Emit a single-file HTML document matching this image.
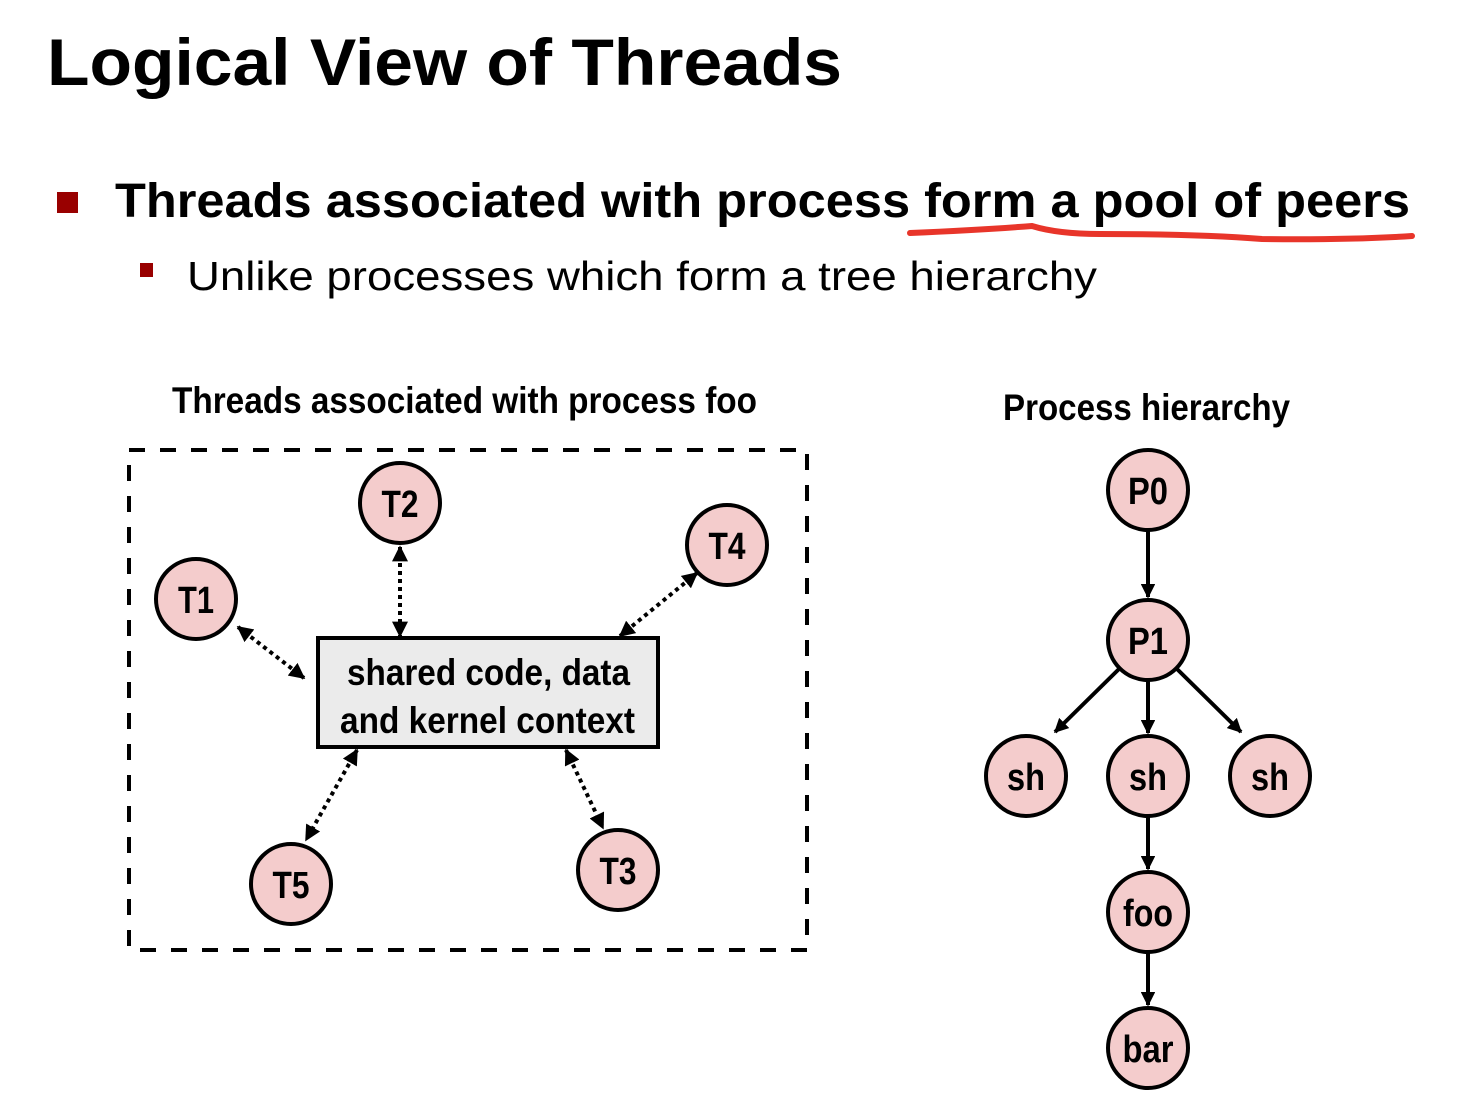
<!DOCTYPE html>
<html><head><meta charset="utf-8"><style>
html,body{margin:0;padding:0;background:#fff;}
svg{display:block;}
.n{font-family:"Liberation Sans Narrow","Liberation Sans",sans-serif;font-weight:bold;}
</style></head><body>
<svg width="1458" height="1102" viewBox="0 0 1458 1102" xmlns="http://www.w3.org/2000/svg">
<defs>
<marker id="a" viewBox="0 0 10 10" refX="9" refY="5" markerWidth="4" markerHeight="4" orient="auto-start-reverse" markerUnits="strokeWidth">
<path d="M0,0 L10,5 L0,10 z" fill="#000"/></marker>
<marker id="b" viewBox="0 0 10 10" refX="9" refY="5" markerWidth="3.6" markerHeight="3.6" orient="auto" markerUnits="strokeWidth">
<path d="M0,0 L10,5 L0,10 z" fill="#000"/></marker>
</defs>
<g font-family="Liberation Sans, sans-serif">
<text x="47" y="85" font-size="66" font-weight="bold" textLength="795" lengthAdjust="spacingAndGlyphs">Logical View of Threads</text>
<rect x="57" y="192" width="21" height="21" fill="#990000"/>
<text x="115" y="217" font-size="48" font-weight="bold" textLength="1295" lengthAdjust="spacingAndGlyphs">Threads associated with process form a pool of peers</text>
<rect x="140" y="263" width="13" height="14" fill="#990000"/>
<text x="187" y="290" font-size="41" textLength="910" lengthAdjust="spacingAndGlyphs">Unlike processes which form a tree hierarchy</text>
</g>
<path d="M910 233 Q980 230 1032 226 Q1058 234 1100 234 Q1200 234 1262 239 Q1350 240 1412 236" stroke="#e8352a" stroke-width="6" fill="none" stroke-linecap="round"/>

<text class="n" x="172" y="413" font-size="37" textLength="585" lengthAdjust="spacingAndGlyphs">Threads associated with process foo</text>
<text class="n" x="1003" y="420" font-size="37" textLength="287" lengthAdjust="spacingAndGlyphs">Process hierarchy</text>

<rect x="129" y="450" width="678" height="500" fill="none" stroke="#000" stroke-width="4" stroke-dasharray="16 15"/>

<rect x="318" y="638" width="340" height="109" fill="#ebebeb" stroke="#000" stroke-width="4"/>
<text class="n" x="347" y="685" font-size="37" textLength="283" lengthAdjust="spacingAndGlyphs">shared code, data</text>
<text class="n" x="340" y="733" font-size="37" textLength="295" lengthAdjust="spacingAndGlyphs">and kernel context</text>

<g stroke="#000" stroke-width="4" stroke-dasharray="4 4" fill="none" marker-start="url(#a)" marker-end="url(#a)">
<line x1="400" y1="547" x2="400" y2="636"/>
<line x1="238" y1="627" x2="304" y2="678"/>
<line x1="697" y1="573" x2="620" y2="636"/>
<line x1="357" y1="750" x2="306" y2="840"/>
<line x1="566" y1="750" x2="603" y2="828"/>
</g>

<g stroke="#000" stroke-width="4" fill="none" marker-end="url(#b)">
<line x1="1148" y1="531" x2="1148" y2="597"/>
<line x1="1148" y1="681" x2="1148" y2="733"/>
<line x1="1119" y1="669" x2="1055" y2="732"/>
<line x1="1177" y1="669" x2="1241" y2="732"/>
<line x1="1148" y1="817" x2="1148" y2="869"/>
<line x1="1148" y1="953" x2="1148" y2="1005"/>
</g>

<g fill="#f4cccc" stroke="#000" stroke-width="4">
<circle cx="400" cy="503" r="40"/>
<circle cx="727" cy="545" r="40"/>
<circle cx="196" cy="599" r="40"/>
<circle cx="291" cy="884" r="40"/>
<circle cx="618" cy="870" r="40"/>
<circle cx="1148" cy="490" r="40"/>
<circle cx="1148" cy="640" r="40"/>
<circle cx="1026" cy="776" r="40"/>
<circle cx="1148" cy="776" r="40"/>
<circle cx="1270" cy="776" r="40"/>
<circle cx="1148" cy="912" r="40"/>
<circle cx="1148" cy="1048" r="40"/>
</g>
<g class="n" font-size="38" text-anchor="middle" lengthAdjust="spacingAndGlyphs">
<text x="400" y="517" textLength="37" lengthAdjust="spacingAndGlyphs">T2</text>
<text x="727" y="559" textLength="37" lengthAdjust="spacingAndGlyphs">T4</text>
<text x="196" y="613" textLength="36" lengthAdjust="spacingAndGlyphs">T1</text>
<text x="291" y="898" textLength="37" lengthAdjust="spacingAndGlyphs">T5</text>
<text x="618" y="884" textLength="37" lengthAdjust="spacingAndGlyphs">T3</text>
<text x="1148" y="504" textLength="40" lengthAdjust="spacingAndGlyphs">P0</text>
<text x="1148" y="654" textLength="40" lengthAdjust="spacingAndGlyphs">P1</text>
<text x="1026" y="790" textLength="38" lengthAdjust="spacingAndGlyphs">sh</text>
<text x="1148" y="790" textLength="38" lengthAdjust="spacingAndGlyphs">sh</text>
<text x="1270" y="790" textLength="38" lengthAdjust="spacingAndGlyphs">sh</text>
<text x="1148" y="926" textLength="50" lengthAdjust="spacingAndGlyphs">foo</text>
<text x="1148" y="1062" textLength="51" lengthAdjust="spacingAndGlyphs">bar</text>
</g>
</svg>
</body></html>
